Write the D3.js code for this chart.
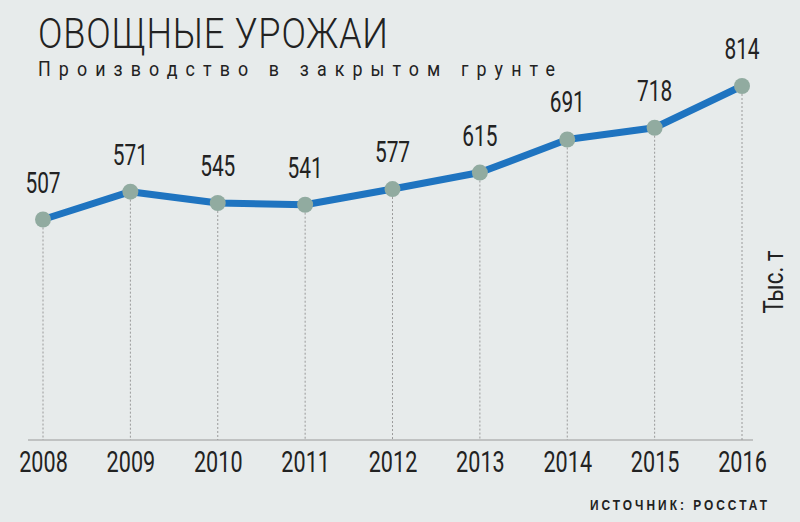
<!DOCTYPE html>
<html><head><meta charset="utf-8">
<script src="https://cdn.jsdelivr.net/npm/d3@7"></script>
<style>
body{margin:0;background:#e7ebeb;}
svg{display:block;}
text{font-family:Roboto,"Liberation Sans",sans-serif;fill:#222;}
</style></head><body>
<svg id="c" width="800" height="522"></svg>
<script>
const years = ["2008","2009","2010","2011","2012","2013","2014","2015","2016"];
const values = [507,571,545,541,577,615,691,718,814];
const title = "ОВОЩНЫЕ УРОЖАИ";
const subtitle = "Производство в закрытом грунте";
const unit = "Тыс. т";
const source = "ИСТОЧНИК: РОССТАТ";

const svg = d3.select("#c");
svg.append("rect").attr("width",800).attr("height",522).attr("fill","#e7ebeb");

const x = d3.scalePoint().domain(years).range([43,742]);
const y = d3.scaleLinear().domain([0,814]).range([440,86]);
const SX = 0.72;

const TS = 0.86;
svg.append("text").attr("transform",`translate(38,48) scale(${TS},1)`).attr("font-size",42).attr("font-weight",300)
  .attr("fill","#1e1e1e").attr("textLength",350/TS).attr("lengthAdjust","spacing").text(title);
svg.append("text").attr("transform",`translate(38,76) scale(0.85,1)`).attr("font-size",21).attr("font-weight",400)
  .attr("fill","#2a2a2a").attr("textLength",517/0.85).attr("lengthAdjust","spacing").text(subtitle);

// drop lines
svg.selectAll("line.drop").data(values).join("line").attr("class","drop")
  .attr("x1",(d,i)=>x(years[i])).attr("x2",(d,i)=>x(years[i]))
  .attr("y1",d=>y(d)).attr("y2",440)
  .attr("stroke","#9a9a9a").attr("stroke-width",1).attr("stroke-dasharray","2,2");

// axis
const ax = svg.append("g").attr("transform","translate(0,440)").call(d3.axisBottom(x).tickSize(0).tickPadding(0));
ax.select(".domain").remove();
ax.append("line").attr("x1",28).attr("x2",753).attr("stroke","#999").attr("stroke-width",1.2);
ax.selectAll(".tick text").attr("dy",null).attr("y",null)
  .attr("transform",`translate(0,32) scale(${SX},1)`)
  .attr("font-size",30).attr("font-weight",400).attr("fill","#222")
  .style("font-family","Roboto,sans-serif");

// line
const line = d3.line().x((d,i)=>x(years[i])).y(d=>y(d));
svg.append("path").datum(values).attr("d",line).attr("fill","none")
  .attr("stroke","#1f74c0").attr("stroke-width",7).attr("stroke-linejoin","round");

svg.selectAll("circle.pt").data(values).join("circle").attr("class","pt")
  .attr("cx",(d,i)=>x(years[i])).attr("cy",d=>y(d)).attr("r",8).attr("fill","#91aba0");

svg.selectAll("text.val").data(values).join("text").attr("class","val")
  .attr("transform",(d,i)=>`translate(${x(years[i])},${y(d)-27}) scale(${SX},1)`)
  .attr("text-anchor","middle").attr("font-size",29).attr("font-weight",400).text(d=>d);

svg.append("text").attr("transform",`translate(783,282) rotate(-90) scale(0.8,1)`).attr("text-anchor","middle")
  .attr("font-size",28).attr("font-weight",400).text(unit);

svg.append("text").attr("transform","translate(590,510) scale(0.85,1)").attr("font-size",14)
  .attr("font-weight","bold").attr("textLength",177/0.85).attr("lengthAdjust","spacing")
  .style("font-family","'Liberation Sans',sans-serif").attr("fill","#1e1e1e").text(source);
</script></body></html>
